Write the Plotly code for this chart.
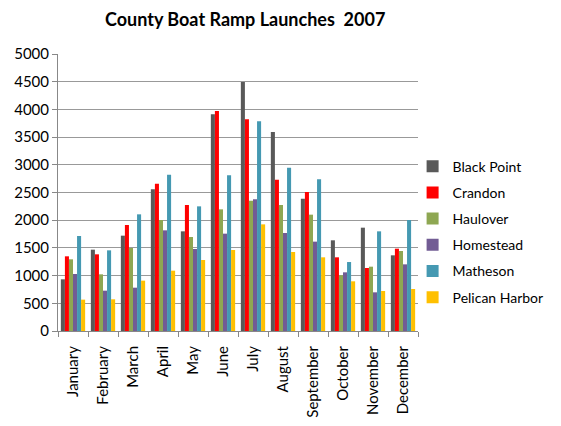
import plotly.graph_objects as go

months = ["January", "February", "March", "April", "May", "June", "July",
          "August", "September", "October", "November", "December"]
black_point = [933, 1468, 1721, 2557, 1799, 3911, 4495, 3592, 2389, 1637, 1865, 1366]
crandon = [1348, 1384, 1913, 2659, 2274, 3971, 3821, 2732, 2509, 1330, 1137, 1486]
haulover = [1294, 1023, 1498, 2004, 1697, 2196, 2353, 2274, 2100, 1005, 1161, 1444]
homestead = [1029, 728, 782, 1817, 1480, 1757, 2377, 1769, 1613, 1059, 698, 1203]
matheson = [1715, 1456, 2106, 2822, 2250, 2810, 3785, 2948, 2738, 1245, 1799, 2004]
pelican_harbor = [566, 572, 909, 1089, 1282, 1462, 1925, 1426, 1330, 897, 722, 758]

series = [
    ("Black Point", black_point, "#595959"),
    ("Crandon", crandon, "#FF0000"),
    ("Haulover", haulover, "#8EA752"),
    ("Homestead", homestead, "#725C94"),
    ("Matheson", matheson, "#4599B2"),
    ("Pelican Harbor", pelican_harbor, "#FFC000"),
]

fig = go.Figure()
for name, vals, color in series:
    fig.add_trace(go.Bar(x=months, y=vals, name=name, marker_color=color,
                         marker_line_width=0, legendgroup=name))

font = "Lato, 'Open Sans', sans-serif"
fig.update_layout(
    width=561, height=426,
    margin=dict(l=58, r=131, t=54, b=95),
    paper_bgcolor="white", plot_bgcolor="white",
    barmode="group", bargap=0.19, bargroupgap=0,
    font=dict(family=font, size=15, color="black"),
    title=dict(text="<b>County Boat Ramp Launches  2007</b>", x=0.437, xanchor="center",
               y=0.953, yanchor="middle", font=dict(size=18, family=font)),
    legend=dict(x=0.985, xanchor="left", y=0.357, yanchor="middle",
                font=dict(size=14, family=font), itemwidth=30,
                tracegroupgap=5, bgcolor="rgba(0,0,0,0)"),
    showlegend=True,
)
fig.update_xaxes(tickangle=-90, showline=True, linecolor="#888888", linewidth=1,
                 ticks="outside", tickson="boundaries", ticklen=5, tickcolor="#888888",
                 tickfont=dict(size=15), ticklabelstandoff=8, automargin=False)
fig.update_yaxes(range=[0, 5000], dtick=500, showgrid=True, gridcolor="#999999",
                 gridwidth=1, showline=True, linecolor="#888888", ticks="outside",
                 ticklen=5, tickcolor="#888888", tickfont=dict(size=15), zeroline=False,
                 automargin=False)

fig.write_html("out.html")
